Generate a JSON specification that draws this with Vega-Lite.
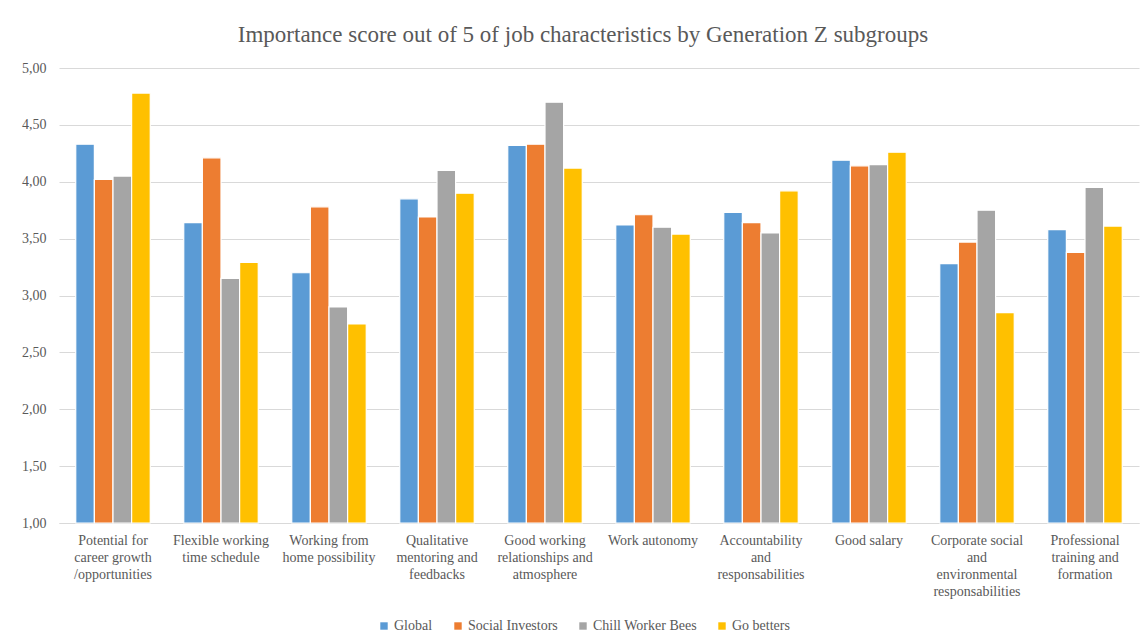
{
  "$schema": "https://vega.github.io/schema/vega-lite/v6.json",
  "width": 1080,
  "height": 455,
  "autosize": {"type": "none"},
  "padding": {"left": 59, "top": 68, "right": 8, "bottom": 121},
  "background": "white",
  "title": {
    "text": "Importance score out of 5 of job characteristics by Generation Z subgroups",
    "font": "Liberation Serif",
    "fontSize": 23,
    "fontWeight": "normal",
    "color": "#595959",
    "anchor": "middle",
    "offset": 14,
    "dx": -16
  },
  "data": {
    "values": [
      {"characteristic": "Potential for career growth /opportunities", "group": "Global", "score": 4.33},
      {"characteristic": "Potential for career growth /opportunities", "group": "Social Investors", "score": 4.02},
      {"characteristic": "Potential for career growth /opportunities", "group": "Chill Worker Bees", "score": 4.05},
      {"characteristic": "Potential for career growth /opportunities", "group": "Go betters", "score": 4.78},
      {"characteristic": "Flexible working time schedule", "group": "Global", "score": 3.64},
      {"characteristic": "Flexible working time schedule", "group": "Social Investors", "score": 4.21},
      {"characteristic": "Flexible working time schedule", "group": "Chill Worker Bees", "score": 3.15},
      {"characteristic": "Flexible working time schedule", "group": "Go betters", "score": 3.29},
      {"characteristic": "Working from home possibility", "group": "Global", "score": 3.2},
      {"characteristic": "Working from home possibility", "group": "Social Investors", "score": 3.78},
      {"characteristic": "Working from home possibility", "group": "Chill Worker Bees", "score": 2.9},
      {"characteristic": "Working from home possibility", "group": "Go betters", "score": 2.75},
      {"characteristic": "Qualitative mentoring and feedbacks", "group": "Global", "score": 3.85},
      {"characteristic": "Qualitative mentoring and feedbacks", "group": "Social Investors", "score": 3.69},
      {"characteristic": "Qualitative mentoring and feedbacks", "group": "Chill Worker Bees", "score": 4.1},
      {"characteristic": "Qualitative mentoring and feedbacks", "group": "Go betters", "score": 3.9},
      {"characteristic": "Good working relationships and atmosphere", "group": "Global", "score": 4.32},
      {"characteristic": "Good working relationships and atmosphere", "group": "Social Investors", "score": 4.33},
      {"characteristic": "Good working relationships and atmosphere", "group": "Chill Worker Bees", "score": 4.7},
      {"characteristic": "Good working relationships and atmosphere", "group": "Go betters", "score": 4.12},
      {"characteristic": "Work autonomy", "group": "Global", "score": 3.62},
      {"characteristic": "Work autonomy", "group": "Social Investors", "score": 3.71},
      {"characteristic": "Work autonomy", "group": "Chill Worker Bees", "score": 3.6},
      {"characteristic": "Work autonomy", "group": "Go betters", "score": 3.54},
      {"characteristic": "Accountability and responsabilities", "group": "Global", "score": 3.73},
      {"characteristic": "Accountability and responsabilities", "group": "Social Investors", "score": 3.64},
      {"characteristic": "Accountability and responsabilities", "group": "Chill Worker Bees", "score": 3.55},
      {"characteristic": "Accountability and responsabilities", "group": "Go betters", "score": 3.92},
      {"characteristic": "Good salary", "group": "Global", "score": 4.19},
      {"characteristic": "Good salary", "group": "Social Investors", "score": 4.14},
      {"characteristic": "Good salary", "group": "Chill Worker Bees", "score": 4.15},
      {"characteristic": "Good salary", "group": "Go betters", "score": 4.26},
      {"characteristic": "Corporate social and environmental responsabilities", "group": "Global", "score": 3.28},
      {"characteristic": "Corporate social and environmental responsabilities", "group": "Social Investors", "score": 3.47},
      {"characteristic": "Corporate social and environmental responsabilities", "group": "Chill Worker Bees", "score": 3.75},
      {"characteristic": "Corporate social and environmental responsabilities", "group": "Go betters", "score": 2.85},
      {"characteristic": "Professional training and formation", "group": "Global", "score": 3.58},
      {"characteristic": "Professional training and formation", "group": "Social Investors", "score": 3.38},
      {"characteristic": "Professional training and formation", "group": "Chill Worker Bees", "score": 3.95},
      {"characteristic": "Professional training and formation", "group": "Go betters", "score": 3.61}
    ]
  },
  "mark": {"type": "bar", "stroke": "white", "strokeWidth": 1.2},
  "encoding": {
    "x": {
      "field": "characteristic",
      "type": "nominal",
      "sort": null,
      "title": null,
      "scale": {"paddingInner": 0.31, "paddingOuter": 0.155},
      "axis": {
        "labelAngle": 0,
        "labelFont": "Liberation Serif",
        "labelFontSize": 14,
        "labelColor": "#595959",
        "labelLimit": 0,
        "labelPadding": 10,
        "labelBaseline": "top",
        "labelLineHeight": 17,
        "ticks": false,
        "domainColor": "#d9d9d9",
        "domainWidth": 1.2,
        "labelExpr": "({'Potential for career growth /opportunities': ['Potential for', 'career growth', '/opportunities'], 'Flexible working time schedule': ['Flexible working', 'time schedule'], 'Working from home possibility': ['Working from', 'home possibility'], 'Qualitative mentoring and feedbacks': ['Qualitative', 'mentoring and', 'feedbacks'], 'Good working relationships and atmosphere': ['Good working', 'relationships and', 'atmosphere'], 'Work autonomy': 'Work autonomy', 'Accountability and responsabilities': ['Accountability', 'and', 'responsabilities'], 'Good salary': 'Good salary', 'Corporate social and environmental responsabilities': ['Corporate social', 'and', 'environmental', 'responsabilities'], 'Professional training and formation': ['Professional', 'training and', 'formation']})[datum.label]"
      }
    },
    "xOffset": {
      "field": "group",
      "type": "nominal",
      "sort": ["Global", "Social Investors", "Chill Worker Bees", "Go betters"],
      "scale": {"paddingInner": 0, "paddingOuter": 0}
    },
    "y": {
      "field": "score",
      "type": "quantitative",
      "title": null,
      "scale": {"domain": [1, 5], "zero": false, "nice": false},
      "axis": {
        "values": [1, 1.5, 2, 2.5, 3, 3.5, 4, 4.5, 5],
        "labelExpr": "replace(format(datum.value, '.2f'), '.', ',')",
        "labelFont": "Liberation Serif",
        "labelFontSize": 14,
        "labelColor": "#595959",
        "labelPadding": 13,
        "ticks": false,
        "domain": false,
        "gridColor": "#d9d9d9",
        "gridWidth": 1.2
      }
    },
    "y2": {"datum": 1},
    "color": {
      "field": "group",
      "type": "nominal",
      "sort": ["Global", "Social Investors", "Chill Worker Bees", "Go betters"],
      "scale": {
        "domain": ["Global", "Social Investors", "Chill Worker Bees", "Go betters"],
        "range": ["#5b9bd5", "#ed7d31", "#a5a5a5", "#ffc000"]
      },
      "legend": {
        "title": null,
        "orient": "none",
        "direction": "horizontal",
        "legendX": 318,
        "legendY": 551,
        "symbolType": "square",
        "symbolSize": 55,
        "symbolStrokeWidth": 0,
        "labelFont": "Liberation Serif",
        "labelFontSize": 14,
        "labelColor": "#595959",
        "labelOffset": 3,
        "columnPadding": 18
      }
    }
  },
  "config": {
    "view": {"stroke": null}
  }
}
